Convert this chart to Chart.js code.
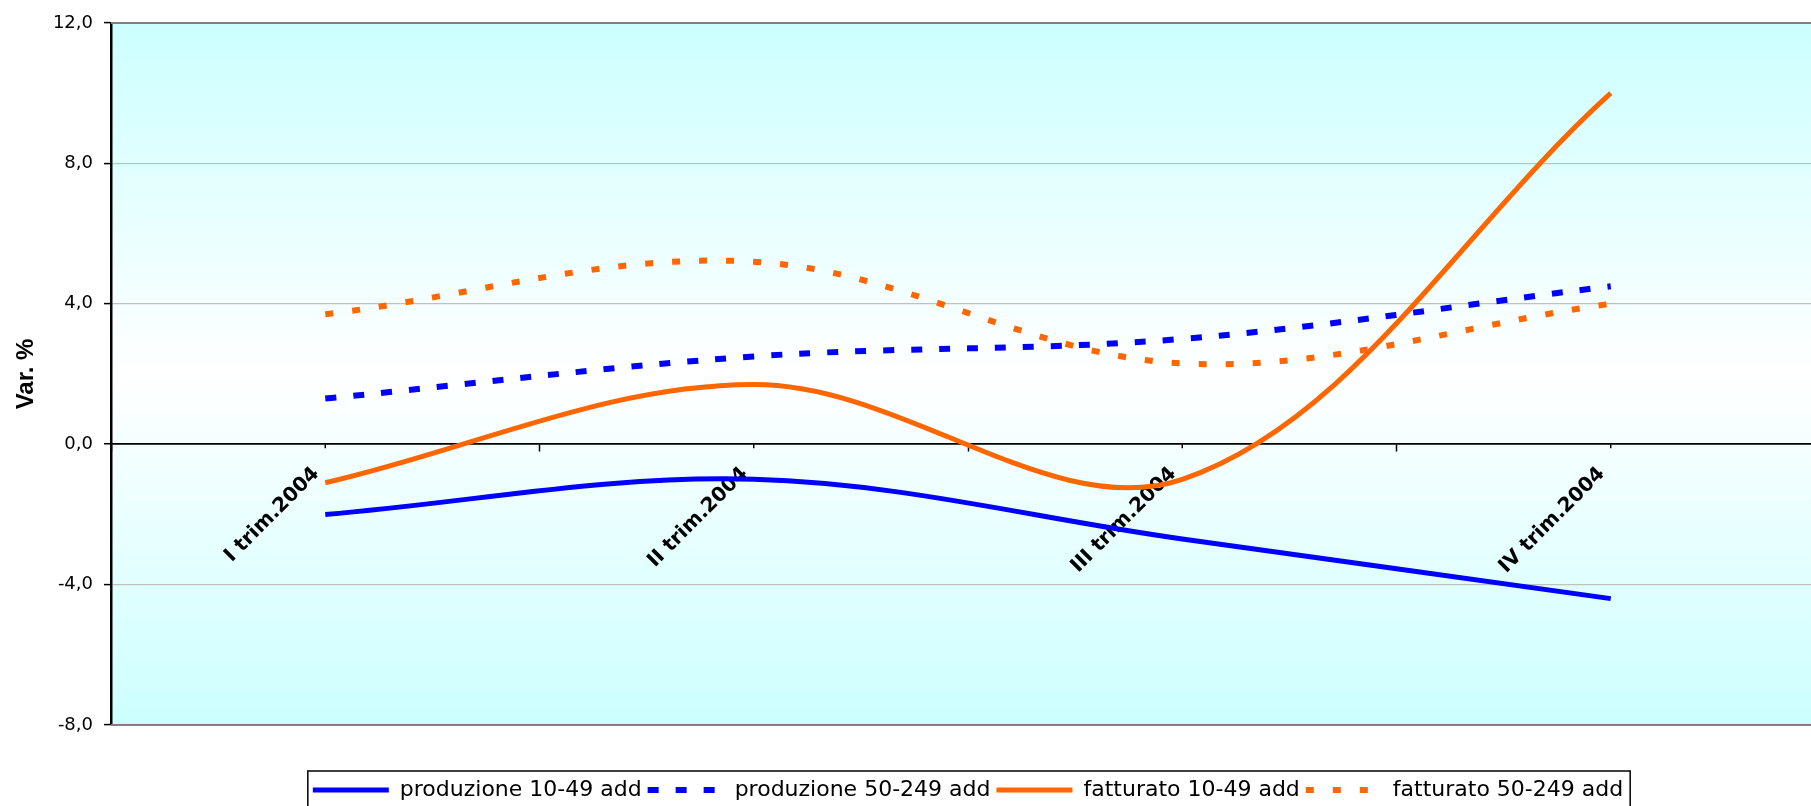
<!DOCTYPE html>
<html>
<head>
<meta charset="utf-8">
<script src="https://cdn.jsdelivr.net/npm/chart.js@4/dist/chart.umd.min.js"></script>
<style>
  html, body { margin: 0; padding: 0; background: #fff; overflow: hidden; }
  #wrap { width: 1840px; height: 812px; position: relative; }
</style>
</head>
<body>
<div id="wrap"><canvas id="G1"></canvas></div>
<script>
const trimestri = ['I trim.2004', 'II trim.2004', 'III trim.2004', 'IV trim.2004'];
const produzione1049 = [-2.0, -1.0, -2.7, -4.4];
const produzione50249 = [1.3, 2.5, 3.0, 4.5];
const fatturato1049 = [-1.1, 1.7, -1.0, 10.0];
const fatturato50249 = [3.7, 5.2, 2.3, 4.0];
const yTicks = [-8, -4, 0, 4, 8, 12];

Chart.defaults.font.family = 'DejaVu Sans';
Chart.defaults.color = '#000';

// sfondo sfumato dell'area del grafico + bordo, tacche e riquadro legenda
const cornice = {
    id: 'cornice',
    beforeDraw(chart) {
        const {ctx, chartArea: a} = chart;
        const g = ctx.createLinearGradient(0, a.top, 0, a.bottom);
        g.addColorStop(0, '#ccffff');
        g.addColorStop(0.5, '#ffffff');
        g.addColorStop(1, '#ccffff');
        ctx.save();
        ctx.fillStyle = g;
        ctx.fillRect(a.left, a.top, a.width, a.height);
        ctx.restore();
    },
    beforeDatasetsDraw(chart) {
        const {ctx, chartArea: a, scales} = chart;
        ctx.save();
        ctx.strokeStyle = '#808080';
        ctx.lineWidth = 2;
        ctx.beginPath();
        ctx.moveTo(a.left, a.top); ctx.lineTo(a.right, a.top);
        ctx.moveTo(a.left, a.bottom); ctx.lineTo(a.right, a.bottom);
        ctx.stroke();
        // tacche minori al centro delle categorie
        const y0 = scales.y.getPixelForValue(0);
        ctx.strokeStyle = '#000';
        ctx.lineWidth = 1.5;
        ctx.beginPath();
        trimestri.forEach((t, i) => {
            const px = scales.x.getPixelForValue(i);
            ctx.moveTo(px, y0); ctx.lineTo(px, y0 + 4);
        });
        ctx.stroke();
        ctx.restore();
    },
    afterDraw(chart) {
        const hb = chart.legend.legendHitBoxes;
        if (!hb || !hb.length) return;
        const last = hb[hb.length - 1];
        const left = hb[0].left - 5;
        const right = last.left + last.width + 7;
        const top = hb[0].top - 8;
        const bottom = hb[0].top + hb[0].height + 8;
        const ctx = chart.ctx;
        ctx.save();
        ctx.strokeStyle = '#000';
        ctx.lineWidth = 1.5;
        ctx.strokeRect(left, top, right - left, bottom - top);
        ctx.restore();
    }
};

new Chart(document.getElementById('G1'), {
    type: 'line',
    data: {
        labels: trimestri,
        datasets: [
            {
                label: 'produzione 10-49 add',
                data: produzione1049,
                borderColor: '#0000ff',
                backgroundColor: '#0000ff',
                borderWidth: 5
            },
            {
                label: 'produzione 50-249 add',
                data: produzione50249,
                borderColor: '#0000ff',
                backgroundColor: '#0000ff',
                borderWidth: 6,
                borderDash: [11, 17]
            },
            {
                label: 'fatturato 10-49 add',
                data: fatturato1049,
                borderColor: '#ff6600',
                backgroundColor: '#ff6600',
                borderWidth: 5
            },
            {
                label: 'fatturato 50-249 add',
                data: fatturato50249,
                borderColor: '#ff6600',
                backgroundColor: '#ff6600',
                borderWidth: 6,
                borderDash: [8, 19]
            }
        ]
    },
    options: {
        responsive: true,
        maintainAspectRatio: false,
        animation: false,
        layout: { padding: { left: 0, right: 15, top: 23, bottom: 1 } },
        elements: {
            point: { radius: 0, hoverRadius: 0 },
            line: { tension: 0.35, fill: false, borderCapStyle: 'butt' }
        },
        scales: {
            x: {
                type: 'category',
                offset: true,
                position: { y: 0 },
                grid: { display: true, drawOnChartArea: false, offset: true, tickLength: 7, tickColor: '#000', tickWidth: 1.5 },
                border: { display: true, color: '#000', width: 1.5 },
                ticks: {
                    minRotation: 45,
                    maxRotation: 45,
                    padding: 11,
                    labelOffset: -9,
                    font: { size: 20, weight: 'bold' },
                    color: '#000'
                }
            },
            y: {
                min: Math.min(...yTicks),
                max: Math.max(...yTicks),
                afterFit: (s) => { s.width = 111; },
                afterBuildTicks: (s) => { s.ticks = yTicks.map(v => ({ value: v })); },
                grid: {
                    color: (c) => c.tick && c.tick.value === 0 ? '#000' : '#c0c0c0',
                    lineWidth: (c) => c.tick && c.tick.value === 0 ? 1.5 : 1.2,
                    tickLength: 7,
                    tickColor: '#000',
                    tickWidth: 1.5
                },
                border: { display: true, color: '#000', width: 2.5 },
                ticks: {
                    padding: 11,
                    font: { size: 18 },
                    color: '#000',
                    callback: (v) => v.toFixed(1).replace('.', ',')
                },
                title: {
                    display: true,
                    text: 'Var. %',
                    font: { family: 'Liberation Sans', size: 24, weight: 'bold' },
                    color: '#000',
                    padding: { top: 12, bottom: 0 }
                }
            }
        },
        plugins: {
            tooltip: { enabled: false },
            legend: {
                position: 'bottom',
                fullSize: false,
                title: { display: true, text: '', font: { size: 10 }, padding: { top: 0, bottom: 36 } },
                labels: {
                    usePointStyle: true,
                    pointStyle: 'line',
                    pointStyleWidth: 76,
                    padding: 6,
                    font: { size: 22 },
                    color: '#000',
                    generateLabels: (chart) => {
                        const items = Chart.defaults.plugins.legend.labels.generateLabels(chart);
                        items.forEach((it) => {
                            const ds = chart.data.datasets[it.datasetIndex];
                            it.lineDash = ds.borderDash || [];
                            it.lineWidth = ds.borderWidth;
                            it.strokeStyle = ds.borderColor;
                            it.lineCap = 'butt';
                        });
                        return items;
                    }
                }
            }
        }
    },
    plugins: [cornice]
});
</script>
</body>
</html>
